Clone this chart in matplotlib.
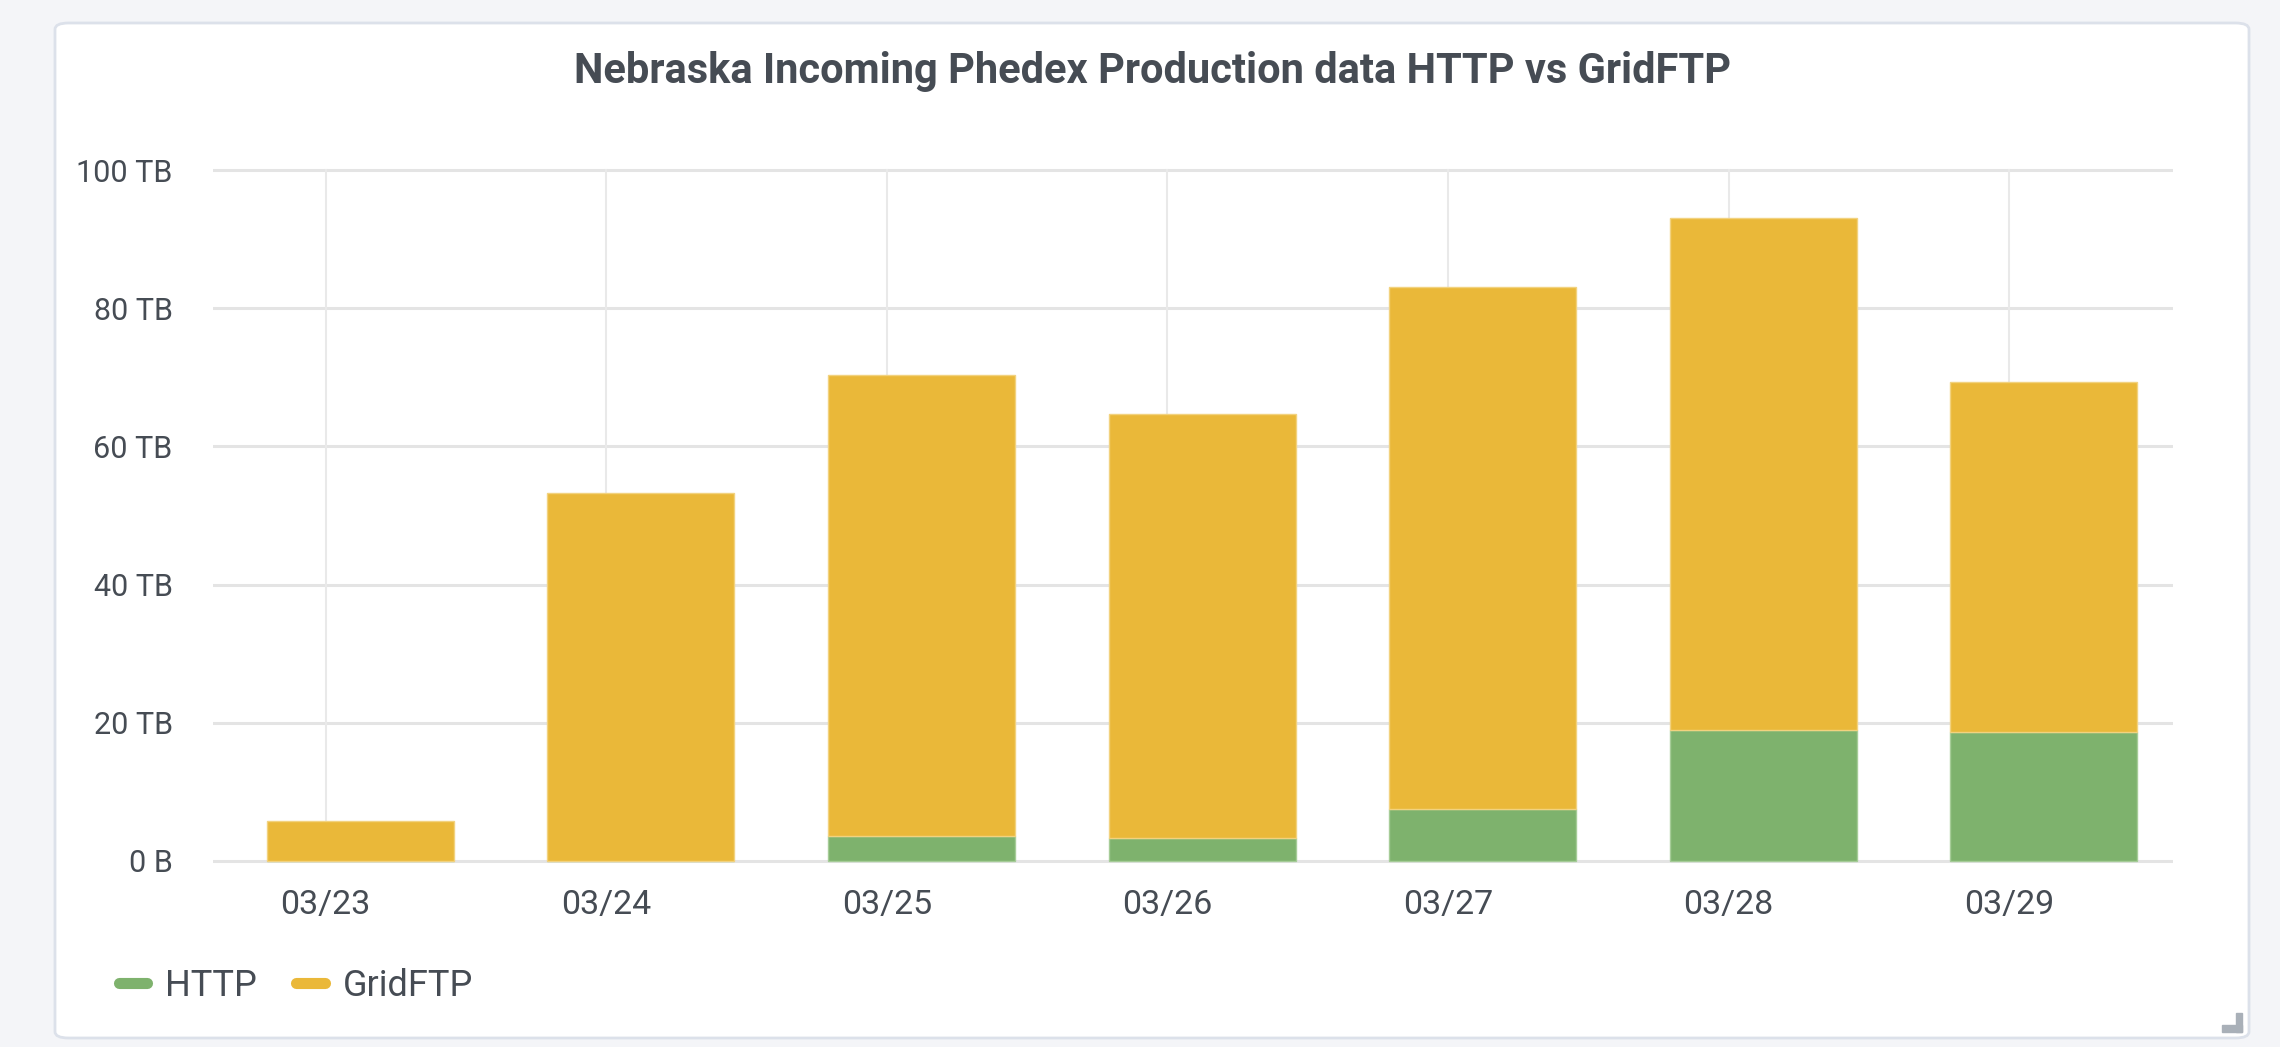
import numpy as np
import matplotlib
matplotlib.use('Agg')
import matplotlib.pyplot as plt
from matplotlib.lines import Line2D
from matplotlib.patches import FancyBboxPatch, Rectangle

# daily transferred volume (TB)
days = ['03/23', '03/24', '03/25', '03/26', '03/27', '03/28', '03/29']
http = [0.0, 0.0, 3.6, 3.4, 7.5, 18.9, 18.6]
gridftp_total = [5.8, 53.2, 70.3, 64.7, 83.1, 93.1, 69.3]
gridftp = [t - h for t, h in zip(gridftp_total, http)]
yticks = [0, 20, 40, 60, 80, 100]
yticklabels = ['0 B', '20 TB', '40 TB', '60 TB', '80 TB', '100 TB']

GREEN = '#7eb26d'
YELLOW = '#eab839'
TEXT = '#464c54'

plt.rcParams['font.family'] = ['Roboto', 'DejaVu Sans']

W, H = 2280, 1047
fig = plt.figure(figsize=(W / 100, H / 100), dpi=100)
fig.patch.set_facecolor('#f4f5f8')

# panel card
panel = FancyBboxPatch((55 / W, 1 - 1038 / H), (2249 - 55) / W, (1038 - 23) / H,
                       boxstyle='round,pad=0,rounding_size=0.006',
                       transform=fig.transFigure, facecolor='white',
                       edgecolor='#dce1ea', linewidth=2, zorder=-2)
fig.patches.append(panel)
# resize handle
fig.patches.append(Rectangle((2236 / W, 1 - 1032 / H), 6 / W, 19 / H,
                             transform=fig.transFigure, color='#a9b0b8', zorder=-1))
fig.patches.append(Rectangle((2222 / W, 1 - 1032 / H), 20 / W, 7 / H,
                             transform=fig.transFigure, color='#a9b0b8', zorder=-1))

# axes placement (pixel based)
pad = 0.5
ppt = 6.91
top_px = 170 - pad * ppt
bot_px = 861 + pad * ppt
ax = fig.add_axes([213 / W, 1 - bot_px / H, (2173 - 213) / W, (bot_px - top_px) / H])
ax.set_facecolor('none')
ax.set_zorder(2)

x = np.arange(len(days))
off = 0.124
bw = 0.666
ax.bar(x + off, http, width=bw, color=GREEN, edgecolor='#a6cc98', linewidth=1, zorder=3)
ax.bar(x + off, gridftp, width=bw, bottom=http, color=YELLOW, edgecolor='#f2d27f',
       linewidth=1, zorder=3)

ax.set_xlim(-0.401, 6.584)
ax.set_ylim(-pad, 100 + pad)
ax.set_xticks(x)
ax.set_xticklabels(days)
ax.set_yticks(yticks)
ax.set_yticklabels(yticklabels)

ax.set_axisbelow(True)
ax.yaxis.grid(True, color='#e4e4e4', linewidth=2.2)
for xi in x:
    ax.plot([xi, xi], [0, 100], color='#e9e9e9', linewidth=1.5, zorder=1)

for s in ax.spines.values():
    s.set_visible(False)
ax.tick_params(axis='both', length=0, colors=TEXT)
ax.tick_params(axis='y', pad=29, labelsize=22)
ax.tick_params(axis='x', pad=18, labelsize=24.5)

fig.text(1152 / W, 1 - 72 / H, 'Nebraska Incoming Phedex Production data HTTP vs GridFTP',
         ha='center', va='center', fontsize=30, fontweight='bold', color=TEXT)

handles = [Line2D([], [], color=GREEN, linewidth=8, solid_capstyle='round'),
           Line2D([], [], color=YELLOW, linewidth=8, solid_capstyle='round')]
leg = fig.legend(handles, ['HTTP', 'GridFTP'], loc='center left',
                 bbox_to_anchor=(86 / W, 1 - 986 / H), ncol=2, frameon=False,
                 fontsize=26, handlelength=0.8, handletextpad=0.5, columnspacing=1.08)
for t in leg.get_texts():
    t.set_color(TEXT)

fig.savefig('out.png', dpi=100, facecolor=fig.get_facecolor())
